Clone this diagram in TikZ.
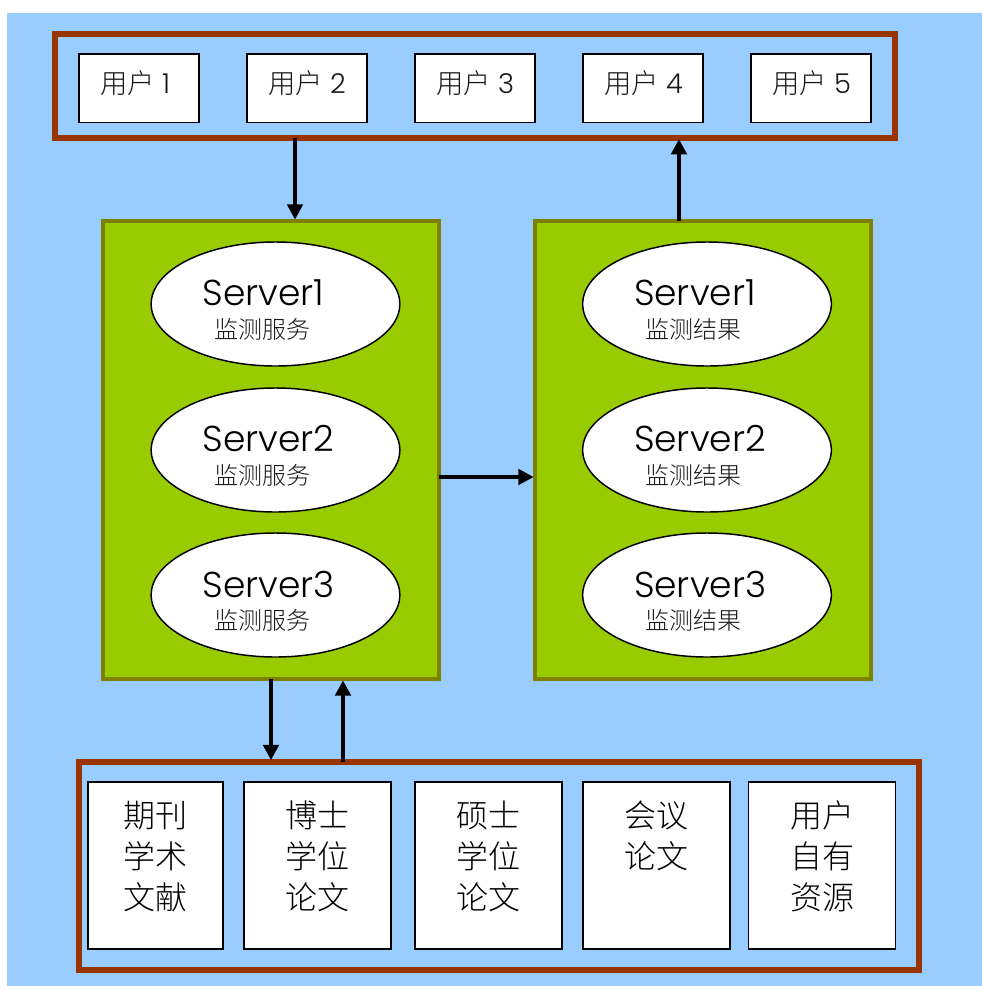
\documentclass[tikz,border=0pt]{standalone}
\usepackage{fontspec}
\setmainfont{Poppins Light}
\newfontfamily\cjk{Noto Sans CJK SC Light}
\usetikzlibrary{arrows.meta,shapes.geometric}
\definecolor{skyfill}{RGB}{153,204,255}
\definecolor{frameline}{RGB}{153,51,0}
\definecolor{greenfill}{RGB}{153,204,0}
\definecolor{greenline}{RGB}{128,128,0}
\tikzset{x=0.75pt,y=-0.75pt,
 every node/.append style={outer sep=0pt,inner sep=0pt},
 framebox/.style={draw=frameline,line width=4.5pt,rectangle},
 userbox/.style={draw=black,line width=1.2pt,fill=white,rectangle,minimum width=90.4pt,minimum height=51.5pt},
 docbox/.style={draw=black,line width=1.2pt,fill=white,rectangle,minimum height=125.2pt},
 panel/.style={draw=greenline,line width=3pt,fill=greenfill,rectangle,minimum width=252pt,minimum height=343.5pt},
 srv/.style={draw=black,line width=1.1pt,fill=white,ellipse,minimum width=186.5pt,minimum height=93pt},
 flow/.style={draw=black,line width=3pt,shorten >=1pt,-{Triangle[length=11.5pt,width=11.5pt]}},
 lab/.style={font=\fontsize{20.5}{20}\selectfont,text=black!90,anchor=west},
 doc/.style={font=\cjk\fontsize{24}{30.75}\selectfont,text=black,align=center,anchor=north},
 stitle/.style={font=\fontsize{27}{28}\selectfont,text=black,anchor=west},
 ssub/.style={font=\cjk\fontsize{18}{18}\selectfont,text=black!90,anchor=center}}
\newcommand{\ubox}[3]{%
 \node[userbox] (#1) at (#2,88.3) {};
 \node[lab] (#1t) at (#2-39,83) {{\cjk 用户} #3};}
\newcommand{\srvnode}[5]{%
 \node[srv] (#1) at (#2,#3) {};
 \node[stitle] (#1t) at (#2-73,#3-11) {#4};
 \node[ssub] (#1s) at (#2-13.5,#3+25.5) {#5};}
\newcommand{\dbox}[5]{%
 \node[docbox,minimum width=#3*0.75pt] (#1) at (#2,865.5) {};
 \node[doc] (#1t) at (#2,#4) {#5};}
\begin{document}
\begin{tikzpicture}
\useasboundingbox (0,0) rectangle (982,986);
\fill[skyfill] (7,13) rectangle (982,986);
\node[framebox,minimum width=630pt,minimum height=78pt] (users) at (475,85.7) {};
\ubox{u1}{139}{1}
\ubox{u2}{307}{2}
\ubox{u3}{475}{3}
\ubox{u4}{643}{4}
\ubox{u5}{811}{5}
\node[panel] (left) at (271,450) {};
\node[panel] (right) at (703,450) {};
\srvnode{a}{275.5}{304}{Server1}{监测服务}
\srvnode{b}{275.5}{450}{Server2}{监测服务}
\srvnode{c}{275.5}{595}{Server3}{监测服务}
\srvnode{d}{707}{304}{Server1}{监测结果}
\srvnode{e}{707}{450}{Server2}{监测结果}
\srvnode{f}{707}{595}{Server3}{监测结果}
\node[framebox,minimum width=630pt,minimum height=156pt] (res) at (499,865.5) {};
\dbox{r1}{155.5}{135.5}{801}{期刊\\学术\\文献}
\dbox{r2}{317.5}{147.5}{801}{博士\\学位\\论文}
\dbox{r3}{488.5}{147.5}{801}{硕士\\学位\\论文}
\dbox{r4}{656.5}{147.5}{801}{会议\\论文}
\dbox{r5}{822}{147}{801}{用户\\自有\\资源}
\coordinate (xa) at (295,0);
\coordinate (xb) at (679,0);
\coordinate (xc) at (271,0);
\coordinate (xd) at (343,0);
\coordinate (yh) at (0,477);
\draw[flow] (users.south -| xa) -- (left.north -| xa);
\draw[flow] (right.north -| xb) -- (users.south -| xb);
\draw[flow] (left.east |- yh) -- (right.west |- yh);
\draw[flow] (left.south -| xc) -- (res.north -| xc);
\draw[flow] (res.north -| xd) -- (left.south -| xd);
\end{tikzpicture}
\end{document}
